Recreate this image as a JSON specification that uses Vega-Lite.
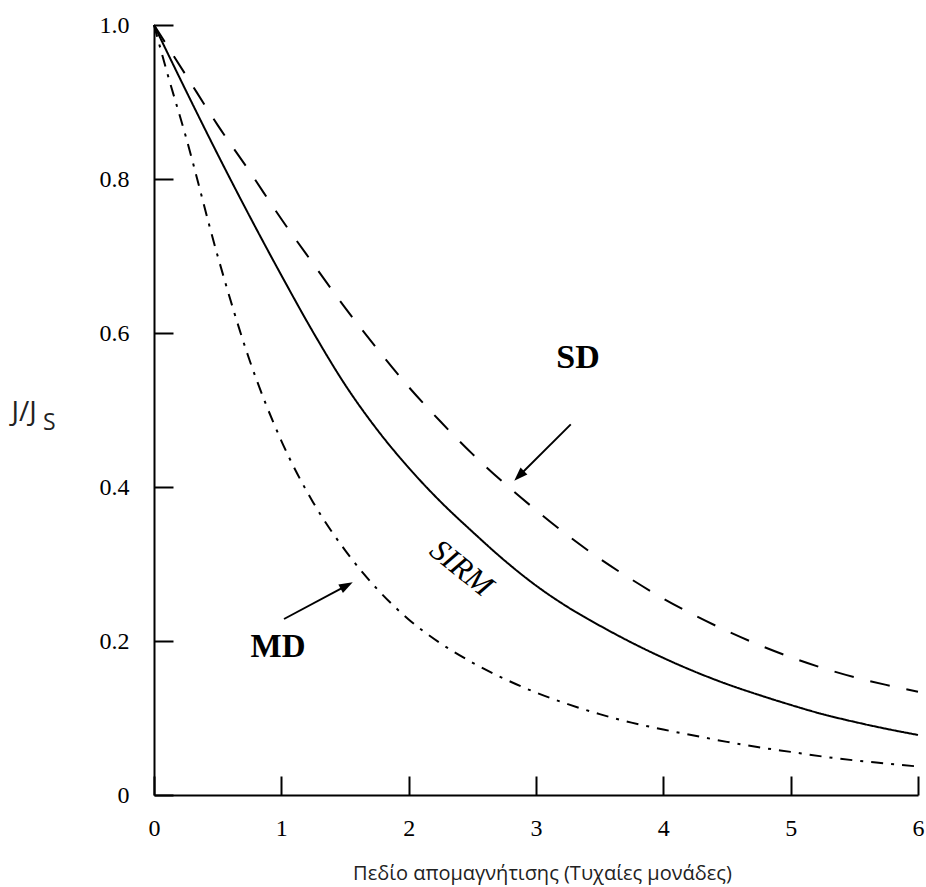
{
  "$schema": "https://vega.github.io/schema/vega-lite/v6.json",
  "width": 764,
  "height": 770,
  "autosize": "none",
  "padding": {"left": 154, "top": 25, "right": 8, "bottom": 92},
  "background": "white",
  "config": {"view": {"stroke": null}},
  "datasets": {
    "curves": [
      {"series": "SIRM", "x": 0, "y": 1.0},
      {"series": "SIRM", "x": 0.25, "y": 0.915},
      {"series": "SIRM", "x": 0.5, "y": 0.832},
      {"series": "SIRM", "x": 0.75, "y": 0.752},
      {"series": "SIRM", "x": 1, "y": 0.675},
      {"series": "SIRM", "x": 1.25, "y": 0.601},
      {"series": "SIRM", "x": 1.5, "y": 0.533},
      {"series": "SIRM", "x": 1.75, "y": 0.475},
      {"series": "SIRM", "x": 2, "y": 0.425},
      {"series": "SIRM", "x": 2.25, "y": 0.381},
      {"series": "SIRM", "x": 2.5, "y": 0.342},
      {"series": "SIRM", "x": 2.75, "y": 0.305},
      {"series": "SIRM", "x": 3, "y": 0.272},
      {"series": "SIRM", "x": 3.25, "y": 0.244},
      {"series": "SIRM", "x": 3.5, "y": 0.220},
      {"series": "SIRM", "x": 3.75, "y": 0.198},
      {"series": "SIRM", "x": 4, "y": 0.178},
      {"series": "SIRM", "x": 4.25, "y": 0.160},
      {"series": "SIRM", "x": 4.5, "y": 0.144},
      {"series": "SIRM", "x": 4.75, "y": 0.130},
      {"series": "SIRM", "x": 5, "y": 0.117},
      {"series": "SIRM", "x": 5.25, "y": 0.105},
      {"series": "SIRM", "x": 5.5, "y": 0.095},
      {"series": "SIRM", "x": 5.75, "y": 0.086},
      {"series": "SIRM", "x": 6, "y": 0.078},
      {"series": "SD", "x": 0, "y": 1.0},
      {"series": "SD", "x": 0.25, "y": 0.935},
      {"series": "SD", "x": 0.5, "y": 0.87},
      {"series": "SD", "x": 0.75, "y": 0.81},
      {"series": "SD", "x": 1, "y": 0.748},
      {"series": "SD", "x": 1.25, "y": 0.69},
      {"series": "SD", "x": 1.5, "y": 0.633},
      {"series": "SD", "x": 1.75, "y": 0.58},
      {"series": "SD", "x": 2, "y": 0.53},
      {"series": "SD", "x": 2.25, "y": 0.485},
      {"series": "SD", "x": 2.5, "y": 0.443},
      {"series": "SD", "x": 2.75, "y": 0.405},
      {"series": "SD", "x": 3, "y": 0.37},
      {"series": "SD", "x": 3.25, "y": 0.337},
      {"series": "SD", "x": 3.5, "y": 0.307},
      {"series": "SD", "x": 3.75, "y": 0.28},
      {"series": "SD", "x": 4, "y": 0.255},
      {"series": "SD", "x": 4.25, "y": 0.233},
      {"series": "SD", "x": 4.5, "y": 0.213},
      {"series": "SD", "x": 4.75, "y": 0.195},
      {"series": "SD", "x": 5, "y": 0.179},
      {"series": "SD", "x": 5.25, "y": 0.165},
      {"series": "SD", "x": 5.5, "y": 0.153},
      {"series": "SD", "x": 5.75, "y": 0.143},
      {"series": "SD", "x": 6, "y": 0.134},
      {"series": "MD", "x": 0, "y": 1.0},
      {"series": "MD", "x": 0.1, "y": 0.94},
      {"series": "MD", "x": 0.25, "y": 0.855},
      {"series": "MD", "x": 0.5, "y": 0.70},
      {"series": "MD", "x": 0.75, "y": 0.565},
      {"series": "MD", "x": 1, "y": 0.46},
      {"series": "MD", "x": 1.25, "y": 0.38},
      {"series": "MD", "x": 1.5, "y": 0.318},
      {"series": "MD", "x": 1.75, "y": 0.268},
      {"series": "MD", "x": 2, "y": 0.228},
      {"series": "MD", "x": 2.25, "y": 0.197},
      {"series": "MD", "x": 2.5, "y": 0.172},
      {"series": "MD", "x": 2.75, "y": 0.151},
      {"series": "MD", "x": 3, "y": 0.133},
      {"series": "MD", "x": 3.25, "y": 0.118},
      {"series": "MD", "x": 3.5, "y": 0.105},
      {"series": "MD", "x": 3.75, "y": 0.094},
      {"series": "MD", "x": 4, "y": 0.085},
      {"series": "MD", "x": 4.25, "y": 0.077},
      {"series": "MD", "x": 4.5, "y": 0.069},
      {"series": "MD", "x": 4.75, "y": 0.062},
      {"series": "MD", "x": 5, "y": 0.056},
      {"series": "MD", "x": 5.25, "y": 0.05},
      {"series": "MD", "x": 5.5, "y": 0.045},
      {"series": "MD", "x": 5.75, "y": 0.041},
      {"series": "MD", "x": 6, "y": 0.037}
    ],
    "one": [{}]
  },
  "layer": [
    {
      "data": {"name": "curves"},
      "mark": {"type": "line", "color": "black", "strokeWidth": 2, "interpolate": "monotone"},
      "encoding": {
        "x": {
          "field": "x", "type": "quantitative",
          "scale": {"domain": [0, 6], "nice": false, "zero": false},
          "axis": {
            "title": "Πεδίο απομαγνήτισης (Τυχαίες μονάδες)",
            "values": [0, 1, 2, 3, 4, 5, 6],
            "format": "d",
            "grid": false,
            "domainColor": "black", "domainWidth": 2,
            "tickColor": "black", "tickWidth": 2, "tickSize": -19,
            "labelFont": "Liberation Serif", "labelFontSize": 24, "labelColor": "black",
            "labelPadding": 40, "labelFlush": false,
            "titleFont": "Open Sans", "titleFontSize": 20, "titleFontWeight": "normal", "titleColor": "#222",
            "titleX": 388, "titleY": 84, "titleBaseline": "alphabetic", "titleAlign": "center"
          }
        },
        "y": {
          "field": "y", "type": "quantitative",
          "scale": {"domain": [0, 1], "nice": false},
          "axis": {
            "title": "J/J",
            "values": [0, 0.2, 0.4, 0.6, 0.8, 1.0],
            "labelExpr": "datum.value == 0 ? '0' : format(datum.value, '.1f')",
            "grid": false,
            "domainColor": "black", "domainWidth": 2,
            "tickColor": "black", "tickWidth": 2, "tickSize": -19,
            "labelFont": "Liberation Serif", "labelFontSize": 24, "labelColor": "black",
            "labelPadding": 44, "labelFlush": false,
            "titleFont": "Open Sans", "titleFontSize": 28, "titleFontWeight": "normal", "titleColor": "#222",
            "titleAngle": 0, "titleAlign": "left", "titleBaseline": "alphabetic",
            "titleX": -143, "titleY": 395
          }
        },
        "detail": {"field": "series"},
        "strokeDash": {
          "field": "series", "type": "nominal",
          "scale": {"domain": ["SIRM", "SD", "MD"], "range": [[1, 0], [20, 17], [12, 8, 3, 8]]},
          "legend": null
        }
      }
    },
    {
      "data": {"name": "one"},
      "mark": {"type": "text", "text": "S", "font": "Open Sans", "fontSize": 23, "color": "#222", "align": "left", "baseline": "alphabetic"},
      "encoding": {"x": {"datum": -0.872}, "y": {"datum": 0.474}}
    },
    {
      "data": {"name": "one"},
      "mark": {"type": "text", "text": "SD", "font": "Liberation Serif", "fontWeight": "bold", "fontSize": 34, "color": "black", "align": "center", "baseline": "middle"},
      "encoding": {"x": {"datum": 3.33}, "y": {"datum": 0.568}}
    },
    {
      "data": {"name": "one"},
      "mark": {"type": "text", "text": "MD", "font": "Liberation Serif", "fontWeight": "bold", "fontSize": 33, "color": "black", "align": "center", "baseline": "middle"},
      "encoding": {"x": {"datum": 0.974}, "y": {"datum": 0.1916}}
    },
    {
      "data": {"name": "one"},
      "mark": {"type": "text", "text": "SIRM", "font": "Liberation Serif", "fontStyle": "italic", "fontSize": 31, "color": "black", "align": "center", "baseline": "middle", "angle": 39},
      "encoding": {"x": {"datum": 2.411}, "y": {"datum": 0.294}}
    },
    {
      "data": {"name": "one"},
      "mark": {"type": "rule", "color": "black", "strokeWidth": 1.9},
      "encoding": {"x": {"datum": 3.273}, "y": {"datum": 0.4814}, "x2": {"datum": 2.874}, "y2": {"datum": 0.4156}}
    },
    {
      "data": {"name": "one"},
      "mark": {"type": "rule", "color": "black", "strokeWidth": 1.9},
      "encoding": {"x": {"datum": 1.021}, "y": {"datum": 0.2286}, "x2": {"datum": 1.505}, "y2": {"datum": 0.2713}}
    },
    {
      "data": {"name": "one"},
      "mark": {"type": "point", "shape": "M0,-1L0.6,0.7L-0.6,0.7Z", "filled": true, "color": "black", "opacity": 1, "size": 260, "angle": 225},
      "encoding": {"x": {"datum": 2.874}, "y": {"datum": 0.4156}}
    },
    {
      "data": {"name": "one"},
      "mark": {"type": "point", "shape": "M0,-1L0.6,0.7L-0.6,0.7Z", "filled": true, "color": "black", "opacity": 1, "size": 260, "angle": 62},
      "encoding": {"x": {"datum": 1.505}, "y": {"datum": 0.2713}}
    }
  ]
}
